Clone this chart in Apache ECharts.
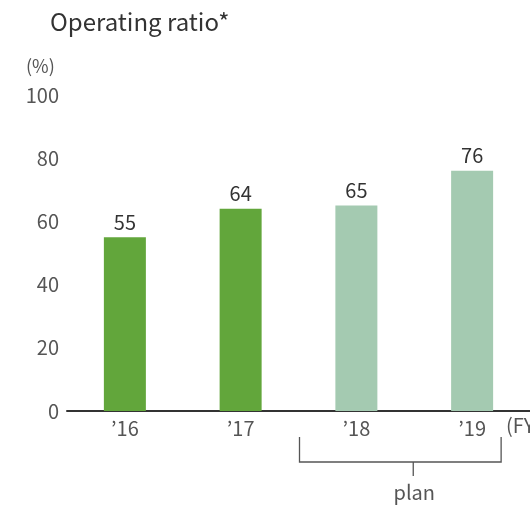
<!DOCTYPE html>
<html>
<head>
<meta charset="utf-8">
<script src="https://cdn.jsdelivr.net/npm/echarts@6/dist/echarts.min.js"></script>
<style>
  html, body { margin: 0; padding: 0; background: #fff; }
  #chart { width: 530px; height: 515px; }
</style>
</head>
<body>
<div id="chart"></div>
<script>
// Fiscal years and operating ratio (%); last two years are plan figures
var years = ['\u201916', '\u201917', '\u201918', '\u201919'];
var ratios = [55, 64, 65, 76];
var isPlan = [false, false, true, true];
var yTicks = [0, 20, 40, 60, 80, 100];

var FONT = '"Noto Sans CJK JP", "Noto Sans", sans-serif';
var ACTUAL_COLOR = '#62a63b';
var PLAN_COLOR = '#a4cab1';

var chart = echarts.init(document.getElementById('chart'));

var barData = ratios.map(function (v, i) {
  return { value: v, itemStyle: { color: isPlan[i] ? PLAN_COLOR : ACTUAL_COLOR } };
});

chart.setOption({
  animation: false,
  title: {
    text: 'Operating ratio*',
    left: 45,
    top: 5,
    textStyle: { fontFamily: FONT, fontSize: 24, fontWeight: 'normal', color: '#333' }
  },
  grid: { left: 67, right: -1, top: 95, bottom: 104 },
  xAxis: {
    type: 'category',
    data: years,
    axisLine: { lineStyle: { color: '#333', width: 2 } },
    axisTick: { show: false },
    axisLabel: { margin: 7, fontFamily: FONT, fontSize: 20, color: '#555' }
  },
  yAxis: {
    type: 'value',
    min: yTicks[0],
    max: yTicks[yTicks.length - 1],
    interval: yTicks[1] - yTicks[0],
    axisLine: { show: false },
    axisTick: { show: false },
    splitLine: { show: false },
    axisLabel: { margin: 8, fontFamily: FONT, fontSize: 20, color: '#555' }
  },
  series: [{
    type: 'bar',
    data: barData,
    barWidth: 42,
    label: {
      show: true,
      position: 'top',
      distance: 5,
      fontFamily: FONT,
      fontSize: 20,
      color: '#333'
    }
  }]
});

// Unit label, fiscal-year suffix and the "plan" bracket under the last two years
var c18 = chart.convertToPixel({ xAxisIndex: 0 }, years[2]);
var c19 = chart.convertToPixel({ xAxisIndex: 0 }, years[3]);
var y0 = chart.convertToPixel({ yAxisIndex: 0 }, 0);
var band = c19 - c18;
var bx1 = c18 - band / 2 + 1;
var bx2 = c19 + 29;
var bTop = y0 + 26;
var bBot = y0 + 51;
var bMid = (c18 + c19) / 2 - 1;
var lineStyle = { stroke: '#555', lineWidth: 1.3 };

chart.setOption({
  graphic: [
    { type: 'text', left: 26, top: 57,
      style: { text: '(%)', font: '18px ' + FONT, fill: '#555' } },
    { type: 'text', x: 506, y: y0 + 4,
      style: { text: '(FY)', font: '20px ' + FONT, fill: '#555' } },
    { type: 'polyline', shape: { points: [[bx1, bTop], [bx1, bBot], [bx2, bBot], [bx2, bTop]] },
      style: lineStyle },
    { type: 'line', shape: { x1: bMid, y1: bBot, x2: bMid, y2: bBot + 14 }, style: lineStyle },
    { type: 'text', x: bMid + 1, y: bBot + 20,
      style: { text: 'plan', font: '20px ' + FONT, fill: '#555', align: 'center' } }
  ]
});
</script>
</body>
</html>
